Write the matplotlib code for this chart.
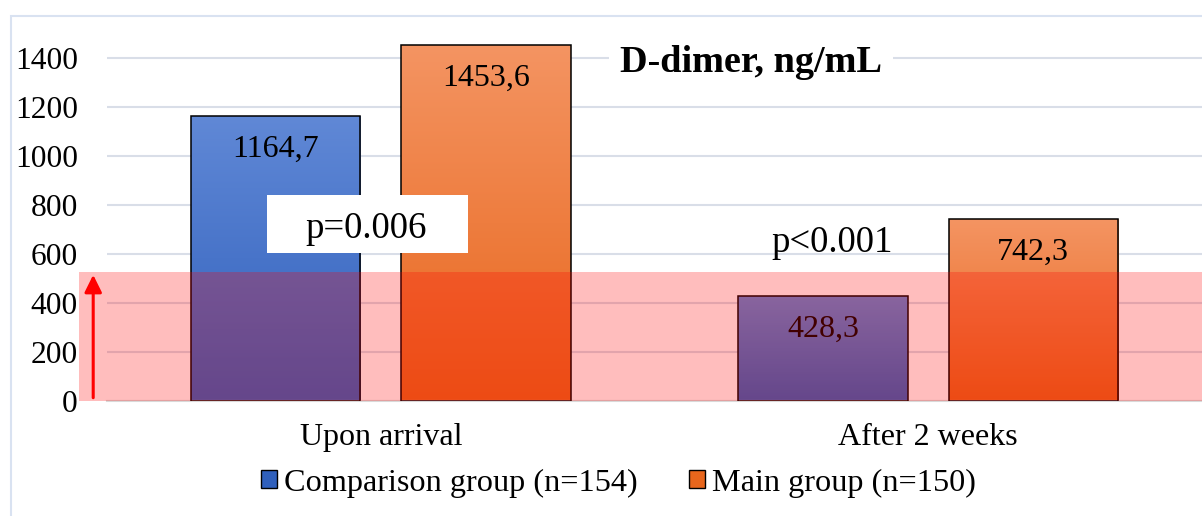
import numpy as np
import matplotlib
matplotlib.use("Agg")
import matplotlib.pyplot as plt
from matplotlib.colors import to_rgb
from matplotlib.patches import Rectangle, Patch

categories = ['Upon arrival', 'After 2 weeks']
series = ['Comparison group (n=154)', 'Main group (n=150)']
comparison = [1164.7, 428.3]
main = [1453.6, 742.3]
value_labels = [['1164,7', '428,3'], ['1453,6', '742,3']]
p_labels = ['p=0.006', 'p<0.001']
norm_level = 525
yticks = [0, 200, 400, 600, 800, 1000, 1200, 1400]

plt.rcParams['font.family'] = ['Liberation Serif', 'DejaVu Serif']

fig = plt.figure(figsize=(12.02, 5.16), dpi=100)
# outer chart frame
fig.patches.append(Rectangle((11 / 1202, -0.1), 1.2, 1 - 16 / 516 + 0.1, transform=fig.transFigure,
                             fill=False, edgecolor='#D9E2F1', lw=1.5))
ax = fig.add_axes([107 / 1202, 1 - 400.5 / 516, 1 - 107 / 1202, 367 / 516])

x = np.arange(len(categories))
w = 0.31
off = 0.192
grads = [('#6088D6', '#3060BC'), ('#F49462', '#E8661C')]

for s, vals in enumerate([comparison, main]):
    xs = x + (off if s else -off)
    bars = ax.bar(xs, vals, w, color='none', edgecolor='black', lw=1.1, zorder=3)
    c_top, c_bot = np.array(to_rgb(grads[s][0])), np.array(to_rgb(grads[s][1]))
    for b in bars:
        t = np.linspace(0, 1, 100)[:, None]
        img = (c_top * (1 - t) + c_bot * t)[:, None, :]
        im = ax.imshow(img, extent=[b.get_x(), b.get_x() + b.get_width(), 0, b.get_height()],
                       aspect='auto', zorder=2, interpolation='bilinear')
        im.set_clip_path(b)
    for xi, v, lab in zip(xs, vals, value_labels[s]):
        ax.annotate(lab, (xi, v), xytext=(0, -29.5), textcoords='offset points',
                    ha='center', va='baseline', fontsize=23, zorder=4)

ax.set_xlim(-0.5, 1.5)
ax.set_ylim(0, 1500)

# reference band drawn over the bars
ax.axhspan(0, norm_level, xmin=-0.0256, xmax=1, color='red', alpha=0.26, lw=0, zorder=5, clip_on=False)
ax.annotate('', xy=(-0.0126, norm_level), xycoords=('axes fraction', 'data'),
            xytext=(-0.0126, 0), textcoords=('axes fraction', 'data'),
            arrowprops=dict(arrowstyle='-|>,head_width=0.52,head_length=1.05', color='red', lw=2.2),
            zorder=6, annotation_clip=False)

# white box behind first p value
ax.add_patch(Rectangle((-0.208, 602), 0.367, 237, facecolor='white', edgecolor='none', zorder=6))
ax.text(-0.026, 663, p_labels[0], ha='center', va='baseline', fontsize=26.5, zorder=7)
ax.text(0.825, 607, p_labels[1], ha='center', va='baseline', fontsize=26.5, zorder=7)

fig.text(751 / 1202, 1 - 72 / 516, 'D-dimer, ng/mL', ha='center', va='baseline',
         fontsize=27.5, fontweight='bold', zorder=8,
         bbox=dict(facecolor='white', edgecolor='none', boxstyle='square,pad=0.3'))

ax.set_yticks(yticks)
ax.set_yticklabels([str(v) for v in yticks], fontsize=22.7)
ax.set_xticks(x)
ax.set_xticklabels(categories, fontsize=23)
ax.tick_params(axis='y', length=0, pad=21)
ax.tick_params(axis='x', length=0, pad=16)
ax.grid(axis='y', color='#D9DEE8', lw=1.5, zorder=0)
ax.set_axisbelow(True)
for sp in ['top', 'right', 'left']:
    ax.spines[sp].set_visible(False)
ax.spines['bottom'].set_color('#D9D9D9')
ax.spines['bottom'].set_linewidth(1.5)

handles = [Patch(facecolor=grads[i][1], edgecolor='black', lw=1) for i in range(2)]
fig.legend(handles, series, loc='center', bbox_to_anchor=(0.5146, 1 - 483 / 516), ncol=2,
           frameon=False, fontsize=23.2, handlelength=0.5, handleheight=0.5,
           handletextpad=0.22, columnspacing=1.6)

fig.savefig('out.png', dpi=100)
